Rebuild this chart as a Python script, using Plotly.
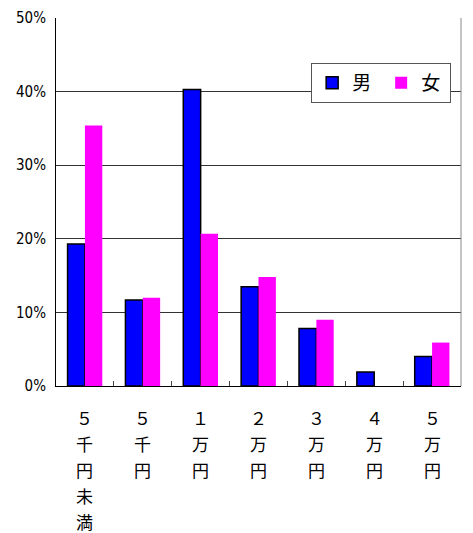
import plotly.graph_objects as go

# Monthly amount categories; labels are written vertically, one character per line
categories = ["５千円未満", "５千円", "１万円", "２万円", "３万円", "４万円", "５万円"]
male = [19.3, 11.7, 40.3, 13.5, 7.8, 1.9, 4.0]
female = [35.4, 12.0, 20.7, 14.8, 9.0, 0.0, 5.9]
y_ticks = [0, 10, 20, 30, 40, 50]
y_ticktext = ["0%", "10%", "20%", "30%", "40%", "50%"]

fig = go.Figure()
fig.add_trace(go.Bar(x=categories, y=male, name="男",
                     marker=dict(color="#0000ff", line=dict(color="#000000", width=1.5))))
fig.add_trace(go.Bar(x=categories, y=female, name="女",
                     marker=dict(color="#ff00ff", line=dict(color="#ff00ff", width=0))))

# vertical category labels below the axis
plot_h = 533 - 18 - 147
annotations = []
for cat in categories:
    for i, ch in enumerate(cat):
        annotations.append(dict(
            x=cat, xref="x", y=-(31 + 26 * i) / plot_h, yref="paper",
            text=ch, showarrow=False, xanchor="center", yanchor="middle",
            font=dict(family="Noto Sans CJK JP", size=17, color="black")))

fig.update_layout(
    width=473, height=533,
    margin=dict(l=56, r=12, t=18, b=147, autoexpand=False),
    paper_bgcolor="white", plot_bgcolor="white",
    barmode="group", bargap=0.4, bargroupgap=0,
    showlegend=True,
    legend=dict(orientation="h", x=0.63, y=0.878, xanchor="left", yanchor="top",
                bgcolor="white", bordercolor="#555555", borderwidth=1,
                font=dict(family="Noto Sans CJK JP", size=19, color="black"),
                itemwidth=30, entrywidthmode="pixels", entrywidth=24,
                traceorder="normal"),
    xaxis=dict(type="category", showline=True, linecolor="black", linewidth=1,
               ticks="inside", ticklen=5, tickcolor="#444444", tickson="boundaries",
               showticklabels=False, showgrid=False, fixedrange=True),
    yaxis=dict(range=[0, 50], tickvals=y_ticks, ticktext=y_ticktext,
               showline=True, linecolor="black", linewidth=1,
               showgrid=True, gridcolor="#333333", gridwidth=1,
               ticks="outside", ticklen=0, ticklabelstandoff=6,
               tickfont=dict(family="DejaVu Sans Condensed, Liberation Sans Narrow, sans-serif",
                             size=15, color="black"),
               zeroline=False, fixedrange=True),
    annotations=annotations,
    shapes=[dict(type="line", xref="x domain", yref="y domain", x0=1, x1=1, y0=0, y1=1,
                 line=dict(color="#888888", width=1))],
)

fig.write_html("out.html")
